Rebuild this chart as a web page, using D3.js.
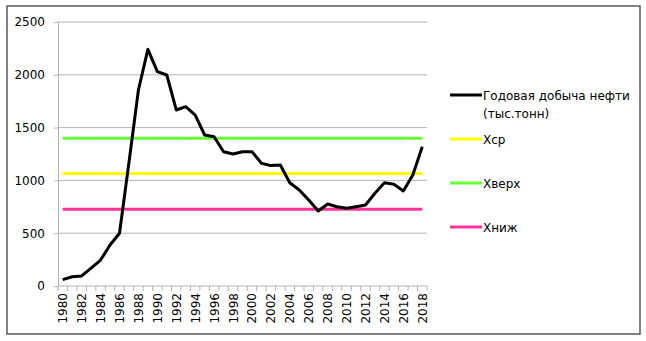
<!DOCTYPE html>
<html>
<head>
<meta charset="utf-8">
<script src="https://cdn.jsdelivr.net/npm/d3@7"></script>
<style>
  body { margin: 0; background: #fff; }
  text { font-family: "DejaVu Sans", sans-serif; }
</style>
</head>
<body>
<div id="chart"></div>
<script>
const years = d3.range(1980, 2019);
const production = [
  60, 88, 95, 170, 246, 388, 500, 1170, 1856, 2241,
  2030, 1998, 1667, 1698, 1619, 1430, 1414, 1272, 1250, 1272,
  1272, 1162, 1140, 1146, 978, 909, 814, 710, 776, 751,
  736, 751, 767, 878, 978, 963, 900, 1051, 1319
];
const refNames = ["Xср", "Xверх", "Xниж"];
const refValues = [1065, 1398, 727];
const refColors = ["#ffff00", "#66ff33", "#ff3399"];
const yTicks = [0, 500, 1000, 1500, 2000, 2500];

const width = 646, height = 341;
const svg = d3.select("#chart").append("svg")
  .attr("width", width)
  .attr("height", height);

// chart frame
svg.append("rect")
  .attr("x", 7).attr("y", 6)
  .attr("width", 633).attr("height", 328)
  .attr("fill", "#fff")
  .attr("stroke", "#595959")
  .attr("stroke-width", 1.5);

const plotL = 58, plotR = 427, plotT = 22, plotB = 286;

const x = d3.scaleBand().domain(years).range([plotL, plotR]);
const y = d3.scaleLinear().domain([0, 2500]).range([plotB, plotT]);
const cx = d => x(d) + x.bandwidth() / 2;

// gridlines
svg.append("g")
  .selectAll("line")
  .data(yTicks.filter(d => d > 0))
  .join("line")
  .attr("x1", plotL).attr("x2", plotR)
  .attr("y1", d => y(d)).attr("y2", d => y(d))
  .attr("stroke", "#b3b3b3");

// y axis
const yAxis = svg.append("g")
  .attr("transform", `translate(${plotL},0)`)
  .call(d3.axisLeft(y).tickValues(yTicks).tickFormat(d3.format("d")).tickSize(4).tickPadding(9));
yAxis.select(".domain").attr("stroke", "#b3b3b3");
yAxis.selectAll(".tick line").attr("stroke", "#b3b3b3");
yAxis.selectAll("text")
  .attr("font-size", 12)
  .attr("font-family", "DejaVu Sans")
  .attr("fill", "#000");

// x axis
const xAxis = svg.append("g").attr("transform", `translate(0,${plotB})`);
xAxis.append("line")
  .attr("x1", plotL).attr("x2", plotR)
  .attr("stroke", "#b3b3b3");
xAxis.selectAll("line.tk")
  .data(years.concat([2019]))
  .join("line")
  .attr("class", "tk")
  .attr("x1", d => d === 2019 ? plotR : x(d))
  .attr("x2", d => d === 2019 ? plotR : x(d))
  .attr("y1", 0).attr("y2", 5)
  .attr("stroke", "#b3b3b3");
xAxis.selectAll("text")
  .data(years.filter(d => d % 2 === 0))
  .join("text")
  .attr("transform", d => `translate(${cx(d) + 4.5},7) rotate(-90)`)
  .attr("text-anchor", "end")
  .attr("font-size", 12)
  .text(d => d);

// reference lines
svg.append("g")
  .selectAll("line")
  .data(refValues)
  .join("line")
  .attr("x1", cx(years[0])).attr("x2", cx(years[years.length - 1]))
  .attr("y1", d => y(d)).attr("y2", d => y(d))
  .attr("stroke", (d, i) => refColors[i])
  .attr("stroke-width", 3);

// production line
svg.append("path")
  .datum(production)
  .attr("fill", "none")
  .attr("stroke", "#000")
  .attr("stroke-width", 3)
  .attr("stroke-linejoin", "round")
  .attr("d", d3.line().x((d, i) => cx(years[i])).y(d => y(d)));

// legend
const legendItems = [
  { lines: ["Годовая добыча нефти", "(тыс.тонн)"], color: "#000", y: 95 },
  { lines: [refNames[0]], color: refColors[0], y: 139 },
  { lines: [refNames[1]], color: refColors[1], y: 183 },
  { lines: [refNames[2]], color: refColors[2], y: 227 }
];
const lg = svg.append("g").selectAll("g").data(legendItems).join("g");
lg.append("line")
  .attr("x1", 450).attr("x2", 482)
  .attr("y1", d => d.y).attr("y2", d => d.y)
  .attr("stroke", d => d.color)
  .attr("stroke-width", 3);
lg.each(function (d) {
  const g = d3.select(this);
  d.lines.forEach((t, i) => {
    g.append("text")
      .attr("x", 483)
      .attr("y", d.y + 5 + i * 18)
      .attr("font-size", 12)
      .text(t);
  });
});
</script>
</body>
</html>
